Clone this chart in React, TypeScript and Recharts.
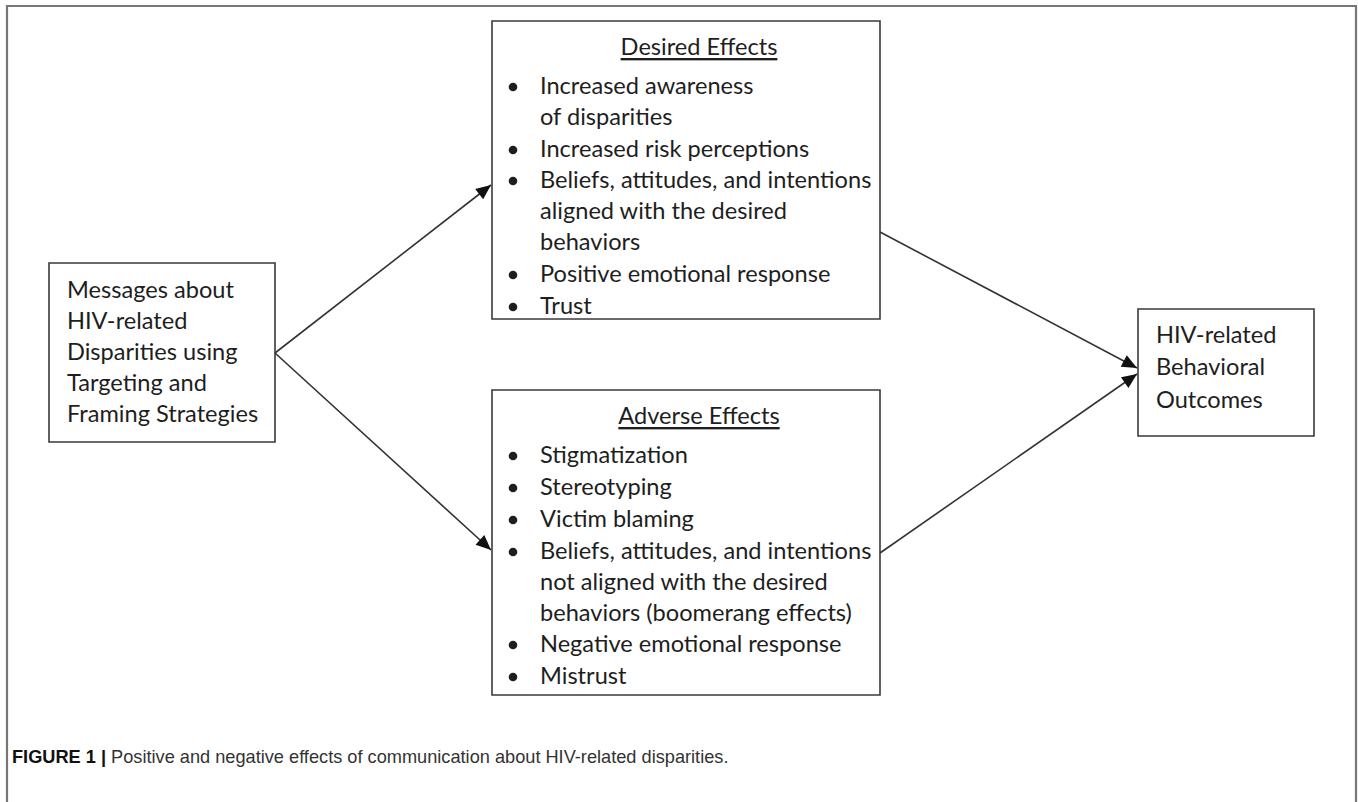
import React from 'react';
import { ComposedChart, XAxis, YAxis, ReferenceArea, Line, Scatter } from 'recharts';

const W = 1358;
const H = 802;

// Diagram boxes (pixel-space coordinates of the figure)
const boxX1 = [49, 492, 492, 1138];
const boxX2 = [275, 880, 880, 1314];
const boxY1 = [263, 21, 390, 309];
const boxY2 = [442, 319, 695, 436];

// Arrows: from -> to
const arrowX1 = [275, 275, 880, 880];
const arrowY1 = [353, 353, 232, 553];
const arrowX2 = [491, 491, 1137, 1137];
const arrowY2 = [185, 550, 368, 374];

// Frame around the figure
const frameX = [7, 7, 1356, 1356];
const frameY = [802, 6, 6, 802];

// Texts
const sourceLines = ['Messages about', 'HIV-related', 'Disparities using', 'Targeting and', 'Framing Strategies'];
const sourceY = [289, 320, 351, 382, 413];
const desiredTitle = 'Desired Effects';
const desiredLines = [
  'Increased awareness',
  'of disparities',
  'Increased risk perceptions',
  'Beliefs, attitudes, and intentions',
  'aligned with the desired',
  'behaviors',
  'Positive emotional response',
  'Trust',
];
const desiredBullet = [true, false, true, true, false, false, true, true];
const desiredY = [85, 116, 148, 179, 210, 241, 273, 305];
const adverseTitle = 'Adverse Effects';
const adverseLines = [
  'Stigmatization',
  'Stereotyping',
  'Victim blaming',
  'Beliefs, attitudes, and intentions',
  'not aligned with the desired',
  'behaviors (boomerang effects)',
  'Negative emotional response',
  'Mistrust',
];
const adverseBullet = [true, true, true, true, false, false, true, true];
const adverseY = [454, 486, 518, 550, 581, 612, 643, 675];
const outcomeLines = ['HIV-related', 'Behavioral', 'Outcomes'];
const outcomeY = [334, 366, 399];
const captionBold = 'FIGURE 1 | ';
const captionText = 'Positive and negative effects of communication about HIV-related disparities.';

const FONT = 'Lato, "Noto Sans", sans-serif';
const FS = 23.6;
const INK = '#1e1e1e';

type TP = { x: number; y: number; label: string; anchor?: string; underline?: boolean; bullet?: boolean; caption?: boolean };

const textPoints: TP[] = [];
sourceLines.forEach((l, i) => textPoints.push({ x: 67, y: sourceY[i], label: l }));
textPoints.push({ x: 699, y: 46, label: desiredTitle, anchor: 'middle', underline: true });
desiredLines.forEach((l, i) => textPoints.push({ x: 540, y: desiredY[i], label: l, bullet: desiredBullet[i] }));
textPoints.push({ x: 699, y: 415, label: adverseTitle, anchor: 'middle', underline: true });
adverseLines.forEach((l, i) => textPoints.push({ x: 540, y: adverseY[i], label: l, bullet: adverseBullet[i] }));
outcomeLines.forEach((l, i) => textPoints.push({ x: 1156, y: outcomeY[i], label: l }));
textPoints.push({ x: 12, y: 757, label: captionText, caption: true });

const TextShape = (props: any) => {
  const { cx, cy, payload } = props;
  if (cx == null || cy == null) return null;
  if (payload.caption) {
    return (
      <text x={cx} y={cy} dominantBaseline="central" fontFamily='"Liberation Sans Narrow", "Liberation Sans", Arial, sans-serif' fontSize={18.2} fill="#333">
        <tspan fontWeight="bold" fill="#111">{captionBold}</tspan>
        <tspan>{payload.label}</tspan>
      </text>
    );
  }
  return (
    <g>
      {payload.bullet ? <circle cx={cx - 27} cy={cy + 2} r={4.3} fill={INK} /> : null}
      <text
        x={cx}
        y={cy}
        dominantBaseline="central"
        textAnchor={payload.anchor || 'start'}
        fontFamily={FONT}
        fontSize={FS}
        fill={INK}
        textDecoration={payload.underline ? 'underline' : undefined}
      >
        {payload.label}
      </text>
    </g>
  );
};

const makeArrowDot = (ai: number) => (props: any) => {
  const { cx, cy, index } = props;
  if (index !== 1 || cx == null) return <g key={`d${ai}-${index}`} />;
  const ang = Math.atan2(arrowY2[ai] - arrowY1[ai], arrowX2[ai] - arrowX1[ai]);
  const len = 15;
  const hw = 6.5;
  const bx = cx - len * Math.cos(ang);
  const by = cy - len * Math.sin(ang);
  const px = -Math.sin(ang) * hw;
  const py = Math.cos(ang) * hw;
  return (
    <polygon
      key={`d${ai}-${index}`}
      points={`${cx},${cy} ${bx + px},${by + py} ${bx - px},${by - py}`}
      fill="#111"
    />
  );
};

export default function App() {
  const frameData = frameX.map((x, i) => ({ x, y: frameY[i] }));
  return (
    <div style={{ position: 'absolute', left: 0, top: 0, width: W, height: H, background: '#fff' }}>
      <ComposedChart width={W} height={H} margin={{ top: 0, right: 0, bottom: 0, left: 0 }}>
        <XAxis type="number" dataKey="x" domain={[0, W]} hide allowDataOverflow />
        <YAxis type="number" dataKey="y" domain={[0, H]} reversed hide allowDataOverflow />
        {boxX1.map((x1, i) => (
          <ReferenceArea
            key={`b${i}`}
            x1={x1}
            x2={boxX2[i]}
            y1={boxY1[i]}
            y2={boxY2[i]}
            fill="none"
            fillOpacity={0}
            stroke="#3a3a3a"
            strokeWidth={1.6}
            ifOverflow="visible"
          />
        ))}
        <Line
          data={frameData}
          dataKey="y"
          type="linear"
          stroke="#777"
          strokeWidth={2.2}
          dot={false}
          activeDot={false}
          isAnimationActive={false}
          legendType="none"
        />
        {arrowX1.map((x1, i) => (
          <Line
            key={`a${i}`}
            data={[
              { x: x1, y: arrowY1[i] },
              { x: arrowX2[i], y: arrowY2[i] },
            ]}
            dataKey="y"
            type="linear"
            stroke="#333"
            strokeWidth={1.6}
            dot={makeArrowDot(i)}
            activeDot={false}
            isAnimationActive={false}
            legendType="none"
          />
        ))}
        <Scatter data={textPoints} dataKey="y" shape={TextShape} isAnimationActive={false} legendType="none" />
      </ComposedChart>
    </div>
  );
}
